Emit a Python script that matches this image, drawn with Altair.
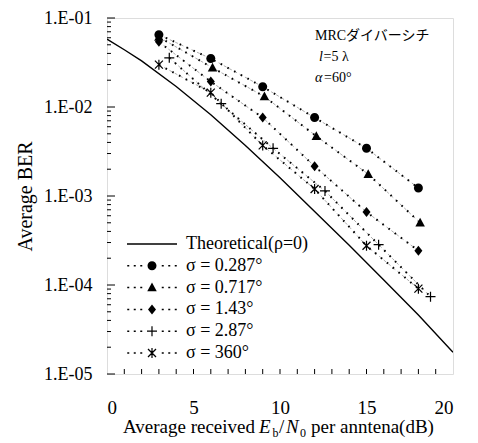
import altair as alt
import pandas as pd

# ---------------- data ----------------
series_names = ["Theoretical(ρ=0)", "σ = 0.287°", "σ = 0.717°", "σ = 1.43°", "σ = 2.87°", "σ = 360°"]

x_theory = [0, 1, 2, 4, 6, 8, 10, 12, 14, 16, 18, 20]
ber_theory = [0.058, 0.044, 0.033, 0.017, 0.0082, 0.0037, 0.0016, 0.00067, 0.00028, 0.000114, 0.000046, 0.0000175]

x_s0287 = [3, 6, 9, 12, 15, 18]
ber_s0287 = [0.065, 0.035, 0.0169, 0.0076, 0.00344, 0.00123]
x_s0717 = [3, 6.1, 9.1, 12.1, 15.1, 18.1]
ber_s0717 = [0.061, 0.0276, 0.0131, 0.0047, 0.00176, 0.0005]
x_s143 = [3, 6, 9, 12, 15, 18]
ber_s143 = [0.054, 0.0193, 0.0076, 0.00216, 0.00066, 0.000243]
x_s287 = [3.6, 6.6, 9.6, 12.6, 15.7, 18.7]
ber_s287 = [0.0357, 0.0109, 0.00343, 0.00114, 0.000284, 0.000074]
x_s360 = [3, 6, 9, 12, 15, 18]
ber_s360 = [0.0299, 0.0145, 0.0037, 0.0012, 0.000276, 0.000091]

x_tick_labels = [0, 5, 10, 15, 20]
x_minor = list(range(1, 20))
y_major = [1e-5, 1e-4, 1e-3, 1e-2, 1e-1]
y_minor = [k * 10.0 ** d for d in range(-5, -1) for k in range(2, 10)]

# ---------------- styles ----------------
W, H = 346, 356
SERIF = '"Liberation Serif", "Times New Roman", serif'
JP = '"Liberation Serif", "Noto Sans CJK JP", serif'

# fill-only symbol paths (units scaled by sqrt(size)/2 px)
marker_paths = [
    "M-0.9,0A0.9,0.9,0,1,1,0.9,0A0.9,0.9,0,1,1,-0.9,0Z",
    "M0,-1L0.95,0.75L-0.95,0.75Z",
    "M0,-1L0.8,0L0,1L-0.8,0Z",
    "M-1,-0.12H-0.12V-1H0.12V-0.12H1V0.12H0.12V1H-0.12V0.12H-1Z",
    "M-0.12,-1H0.12V1H-0.12Z"
    "M-0.712,-0.888L0.888,0.712L0.712,0.888L-0.888,-0.712Z"
    "M-0.888,0.712L0.712,-0.888L0.888,-0.712L-0.712,0.888Z",
]
dots = ("M-4.95,-0.15H-4.55V0.15H-4.95Z"
        "M-3.65,-0.15H-3.25V0.15H-3.65Z"
        "M-2.35,-0.15H-1.95V0.15H-2.35Z"
        "M1.95,-0.15H2.35V0.15H1.95Z"
        "M3.25,-0.15H3.65V0.15H3.25Z"
        "M4.55,-0.15H4.95V0.15H4.55Z")
legend_paths = ["M-5,-0.13H5V0.13H-5Z"] + [dots + p for p in marker_paths]

sig_names = series_names[1:]
xs_list = [x_s0287, x_s0717, x_s143, x_s287, x_s360]
ys_list = [ber_s0287, ber_s0717, ber_s143, ber_s287, ber_s360]
rows = []
for name, xv, yv in zip(sig_names, xs_list, ys_list):
    for a, b in zip(xv, yv):
        rows.append({"series": name, "x": a, "ber": b})
df_sig = pd.DataFrame(rows)
df_th = pd.DataFrame({"x": x_theory, "ber": ber_theory})
df_leg = pd.DataFrame({"lseries": series_names})

xs = alt.Scale(domain=[0, 20], nice=False, zero=False)
ys = alt.Scale(type="log", domain=[1e-5, 1e-1], nice=False)

xaxis = alt.Axis(values=x_tick_labels, format="d", ticks=False, tickSize=0, domain=False, grid=False,
                 labelFont=SERIF, labelFontSize=19, labelColor="black", labelPadding=24, title=None)
yaxis = alt.Axis(values=y_major, labelExpr="'1.E-0' + round(-log(datum.value)/LN10)",
                 ticks=False, tickSize=0, domain=False, grid=False,
                 labelFont=SERIF, labelFontSize=18, labelColor="black", labelPadding=15,
                 title="Average BER", titleFont=SERIF, titleFontSize=20, titleFontWeight="normal",
                 titleColor="black", titleX=-82, titleY=H / 2, titleAngle=-90, titleBaseline="middle",
                 titleAlign="center")

X = lambda f: alt.X(f, scale=xs, axis=xaxis)
Y = lambda f: alt.Y(f, scale=ys, axis=yaxis)

theory = alt.Chart(df_th).mark_line(color="black", strokeWidth=1.4, clip=True).encode(
    x=X("x:Q"), y=Y("ber:Q"))

gray_lines = alt.Chart(df_sig).mark_line(color="#777", strokeWidth=0.6, strokeDash=[3, 3]).encode(
    x=X("x:Q"), y=Y("ber:Q"), detail="series:N")
dot_lines = alt.Chart(df_sig).mark_line(color="black", strokeWidth=2, strokeDash=[1.6, 6]).encode(
    x=X("x:Q"), y=Y("ber:Q"), detail="series:N")

markers = alt.Chart(df_sig).mark_point(filled=True, color="black", opacity=1, size=100).encode(
    x=X("x:Q"), y=Y("ber:Q"),
    shape=alt.Shape("series:N", scale=alt.Scale(domain=sig_names, range=marker_paths), legend=None))

legend_layer = alt.Chart(df_leg).mark_point(filled=True, color="black", opacity=0, size=100).encode(
    shape=alt.Shape("lseries:N", scale=alt.Scale(domain=series_names, range=legend_paths),
                    legend=alt.Legend(title=None, orient="none", legendX=36, legendY=217,
                                      symbolSize=100, symbolFillColor="black",
                                      symbolOpacity=1, labelFont=SERIF,
                                      labelFontSize=18, labelColor="black", labelOffset=25,
                                      rowPadding=3.8, padding=0, labelLimit=300)))

y_major_ticks = alt.Chart(pd.DataFrame({"v": y_major})).mark_rule(color="black", strokeWidth=1).encode(
    y=Y("v:Q"), x=alt.value(0), x2=alt.value(8))
y_minor_ticks = alt.Chart(pd.DataFrame({"v": y_minor})).mark_rule(color="black", strokeWidth=1).encode(
    y=Y("v:Q"), x=alt.value(0), x2=alt.value(4))
x_ticks = alt.Chart(pd.DataFrame({"v": x_minor})).mark_rule(color="black", strokeWidth=1).encode(
    x=X("v:Q"), y=alt.value(H), y2=alt.value(H - 5))


def txt(t, x, y, size, style="normal", align="left", font=SERIF):
    return alt.Chart(pd.DataFrame({"t": [t]})).mark_text(
        font=font, fontSize=size, fontStyle=style, align=align, baseline="alphabetic", color="black"
    ).encode(text="t:N", x=alt.value(x), y=alt.value(y))


TB = 415
title_parts = [
    txt("Average received", 148, TB, 19, align="right"),
    txt("E", 152, TB, 19, "italic"),
    txt("b", 165.5, TB + 3.5, 12),
    txt("/", 172, TB, 19),
    txt("N", 179, TB, 19, "italic"),
    txt("0", 193, TB + 3.5, 12),
    txt("per anntena(dB)", 204, TB, 19),
]
notes = [
    txt("MRCダイバーシチ", 208, 22, 14, font=JP),
    txt("l", 212, 43, 14, "italic"),
    txt("=5 λ", 216.5, 43, 14),
    txt("α", 208, 64, 14, "italic"),
    txt("=60°", 217, 64, 14),
]

chart = alt.layer(
    theory, gray_lines, dot_lines, markers, legend_layer,
    y_major_ticks, y_minor_ticks, x_ticks, *title_parts, *notes
).resolve_scale(shape="independent").properties(
    width=W, height=H,
    autosize=alt.AutoSizeParams(type="none"),
    padding={"left": 99, "top": 10, "right": 15, "bottom": 67},
).configure_view(stroke="black", strokeWidth=1.5).configure(background="white").configure_legend(
    labelFont=SERIF, labelFontSize=18)

chart.save("out.html", embed_options={"renderer": "svg", "actions": False})
